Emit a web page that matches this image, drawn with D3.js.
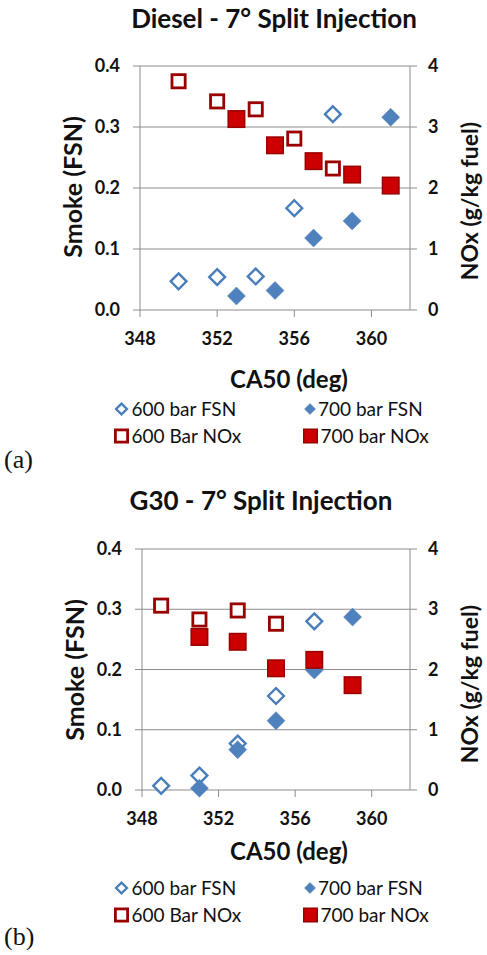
<!DOCTYPE html>
<html>
<head>
<meta charset="utf-8">
<script src="https://cdn.jsdelivr.net/npm/d3@7"></script>
<style>
  body { margin: 0; background: #fff; }
  text { font-family: Lato, "Open Sans", sans-serif; fill: #111; }
</style>
</head>
<body>
<div id="chart"></div>
<script>
// tick values shared by both panels
const xTicks = [348, 352, 356, 360];
const smokeTicks = [0, 0.1, 0.2, 0.3, 0.4];
const noxTicks = [0, 1, 2, 3, 4];

// (a) Diesel
const dieselFsn600X = [350, 352, 354, 356, 358];
const dieselFsn600 = [0.047, 0.054, 0.055, 0.167, 0.321];
const dieselFsn700X = [353, 355, 357, 359, 361];
const dieselFsn700 = [0.023, 0.032, 0.118, 0.146, 0.316];
const dieselNox600X = [350, 352, 354, 356, 358];
const dieselNox600 = [3.75, 3.42, 3.29, 2.81, 2.32];
const dieselNox700X = [353, 355, 357, 359, 361];
const dieselNox700 = [3.13, 2.70, 2.44, 2.22, 2.04];

// (b) G30
const g30Fsn600X = [349, 351, 353, 355, 357];
const g30Fsn600 = [0.007, 0.024, 0.077, 0.156, 0.280];
const g30Fsn700X = [351, 353, 355, 357, 359];
const g30Fsn700 = [0.003, 0.067, 0.115, 0.199, 0.287];
const g30Nox600X = [349, 351, 353, 355];
const g30Nox600 = [3.06, 2.83, 2.98, 2.76];
const g30Nox700X = [351, 353, 355, 357, 359];
const g30Nox700 = [2.54, 2.46, 2.02, 2.16, 1.74];

const legendLabels = ["600 bar FSN", "700 bar FSN", "600 Bar NOx", "700 bar NOx"];

const W = 487, H = 955;
const blue = "#4f81bd", blueLine = "#4a7ebb";
const red = "#cc0000", darkRed = "#990000";
const gridColor = "#8c8c8c";

const svg = d3.select("#chart").append("svg")
    .attr("width", W)
    .attr("height", H);

const zip = (xs, ys) => xs.map((x, i) => ({x: x, y: ys[i]}));

// size = outer width of the marker in px
function drawMarker(sel, type, size) {
    if (type === "openDiamond" || type === "fillDiamond") {
        const filled = type === "fillDiamond";
        const r = filled ? size / 2 : size / 2 - 1.6;
        sel.append("path")
            .attr("d", `M0,${-r}L${r},0L0,${r}L${-r},0Z`)
            .attr("fill", filled ? blue : "#fff")
            .attr("stroke", filled ? blue : blueLine)
            .attr("stroke-width", filled ? 0.5 : 2.4);
    } else {
        const filled = type === "fillSquare";
        const s = filled ? size - 1.5 : size - 2.8;
        sel.append("rect")
            .attr("x", -s / 2).attr("y", -s / 2)
            .attr("width", s).attr("height", s)
            .attr("fill", filled ? red : "#fff")
            .attr("stroke", darkRed)
            .attr("stroke-width", filled ? 1.5 : 2.8);
    }
}

function drawPanel(p) {
    const g = svg.append("g");

    const x = d3.scaleLinear().domain([348, 362]).range([p.left, p.right]);
    const ySmoke = d3.scaleLinear().domain([0, 0.4]).range([p.bottom, p.top]);
    const yNox = d3.scaleLinear().domain([0, 4]).range([p.bottom, p.top]);

    // title
    g.append("text")
        .attr("x", p.titleX).attr("y", p.titleY)
        .attr("text-anchor", "middle")
        .style("font-size", "26px").style("font-weight", "bold")
        .text(p.title);

    // gridlines with tick stubs on both sides
    g.selectAll(".grid").data(smokeTicks).join("line")
        .attr("x1", p.left - 7).attr("x2", p.right + 7)
        .attr("y1", d => ySmoke(d)).attr("y2", d => ySmoke(d))
        .attr("stroke", gridColor).attr("stroke-width", 1);

    // vertical axis lines
    [p.left, p.right].forEach(xx => {
        g.append("line")
            .attr("x1", xx).attr("x2", xx)
            .attr("y1", p.top).attr("y2", p.bottom)
            .attr("stroke", gridColor).attr("stroke-width", 1);
    });

    // x ticks
    g.selectAll(".xt").data(xTicks).join("line")
        .attr("x1", d => x(d)).attr("x2", d => x(d))
        .attr("y1", p.bottom).attr("y2", p.bottom + 7)
        .attr("stroke", gridColor);

    g.selectAll(".xl").data(xTicks).join("text")
        .attr("x", d => x(d)).attr("y", p.bottom + 35)
        .attr("text-anchor", "middle")
        .style("font-size", "18px").style("font-weight", "bold")
        .text(d => d);

    // left tick labels
    g.selectAll(".yl").data(smokeTicks).join("text")
        .attr("x", p.left - 20).attr("y", d => ySmoke(d) + 6)
        .attr("text-anchor", "end")
        .style("font-size", "18px").style("font-weight", "bold")
        .text(d => d3.format(".1f")(d));

    // right tick labels
    g.selectAll(".yr").data(noxTicks).join("text")
        .attr("x", p.right + 18).attr("y", d => yNox(d) + 6)
        .style("font-size", "18px").style("font-weight", "bold")
        .text(d => d);

    // axis titles
    g.append("text")
        .attr("transform", `translate(${p.left - 58},${p.top + 121}) rotate(-90)`)
        .attr("text-anchor", "middle")
        .style("font-size", "25px").style("font-weight", "bold")
        .text("Smoke (FSN)");
    g.append("text")
        .attr("transform", `translate(${p.right + 68},${p.top + 135}) rotate(-90)`)
        .attr("text-anchor", "middle")
        .style("font-size", "23px").style("font-weight", "bold")
        .text("NOx (g/kg fuel)");
    g.append("text")
        .attr("x", 289).attr("y", p.bottom + p.xLabelDy)
        .attr("text-anchor", "middle")
        .style("font-size", "24px").style("font-weight", "bold")
        .text("CA50 (deg)");

    // series (draw order decides which squares sit on top)
    const fsn = [
        {pts: zip(p.fsn600X, p.fsn600), y: ySmoke, type: "openDiamond", size: 19},
        {pts: zip(p.fsn700X, p.fsn700), y: ySmoke, type: "fillDiamond", size: 18}
    ];
    const nox600 = {pts: zip(p.nox600X, p.nox600), y: yNox, type: "openSquare", size: 16};
    const nox700 = {pts: zip(p.nox700X, p.nox700), y: yNox, type: "fillSquare", size: 18};
    const series = fsn.concat(p.openOnTop ? [nox700, nox600] : [nox600, nox700]);
    series.forEach(s => {
        g.append("g").selectAll("g").data(s.pts).join("g")
            .attr("transform", d => `translate(${x(d.x)},${s.y(d.y)})`)
            .each(function() { drawMarker(d3.select(this), s.type, s.size); });
    });

    // legend
    const types = ["openDiamond", "fillDiamond", "openSquare", "fillSquare"];
    const legSize = [14, 11, 15, 15];
    const legX = [121.5, 310, 121.5, 310.5];
    const legY = [p.bottom + p.legDy, p.bottom + p.legDy, p.bottom + p.legDy + 27, p.bottom + p.legDy + 27];
    legendLabels.forEach((lab, i) => {
        const lg = g.append("g").attr("transform", `translate(${legX[i]},${legY[i]})`);
        drawMarker(lg, types[i], legSize[i]);
        lg.append("text")
            .attr("x", i === 1 ? 8 : 10).attr("y", 7)
            .style("font-size", "19px")
            .text(lab);
    });

    // panel letter
    svg.append("text")
        .attr("x", 4).attr("y", p.bottom + p.letterDy)
        .style("font-family", "'Liberation Serif', 'Times New Roman', serif")
        .style("font-size", "26px")
        .text(p.letter);
}

drawPanel({
    title: "Diesel - 7° Split Injection", titleX: 274, titleY: 28,
    left: 140, right: 410, top: 66, bottom: 310,
    xLabelDy: 78, legDy: 99, letterDy: 158, letter: "(a)", openOnTop: true,
    fsn600X: dieselFsn600X, fsn600: dieselFsn600,
    fsn700X: dieselFsn700X, fsn700: dieselFsn700,
    nox600X: dieselNox600X, nox600: dieselNox600,
    nox700X: dieselNox700X, nox700: dieselNox700
});

drawPanel({
    title: "G30 - 7° Split Injection", titleX: 261, titleY: 510,
    left: 142, right: 410, top: 549, bottom: 790,
    xLabelDy: 70, legDy: 98, letterDy: 155, letter: "(b)", openOnTop: false,
    fsn600X: g30Fsn600X, fsn600: g30Fsn600,
    fsn700X: g30Fsn700X, fsn700: g30Fsn700,
    nox600X: g30Nox600X, nox600: g30Nox600,
    nox700X: g30Nox700X, nox700: g30Nox700
});
</script>
</body>
</html>
